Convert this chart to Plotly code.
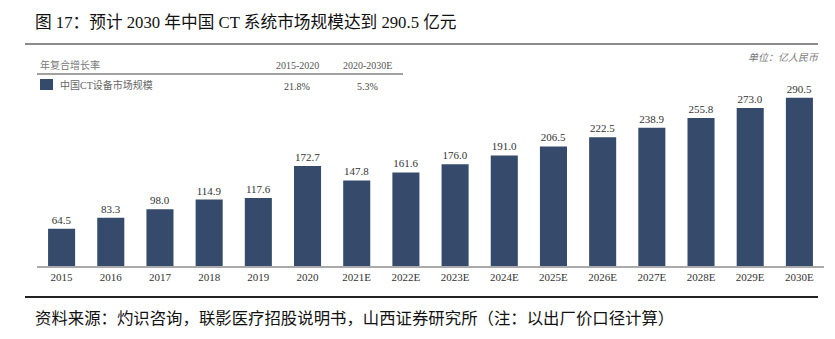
import plotly.graph_objects as go

categories = ["2015", "2016", "2017", "2018", "2019", "2020", "2021E", "2022E",
              "2023E", "2024E", "2025E", "2026E", "2027E", "2028E", "2029E", "2030E"]
values = [64.5, 83.3, 98.0, 114.9, 117.6, 172.7, 147.8, 161.6,
          176.0, 191.0, 206.5, 222.5, 238.9, 255.8, 273.0, 290.5]
value_labels = ["64.5", "83.3", "98.0", "114.9", "117.6", "172.7", "147.8", "161.6",
                "176.0", "191.0", "206.5", "222.5", "238.9", "255.8", "273.0", "290.5"]
cagr_periods = ["2015-2020", "2020-2030E"]
cagr_values = ["21.8%", "5.3%"]
series_name = "中国CT设备市场规模"

W, H = 835, 339
PL, PR, PT, PB = 37, 824, 75, 266
BAR = "#364B6B"
SERIF = "Liberation Serif, Times New Roman, Noto Sans CJK SC, serif"
CJK = "Noto Sans CJK SC, sans-serif"


def px(x):
    return (x - PL) / (PR - PL)


def py(y):
    return (PB - y) / (PB - PT)


fig = go.Figure()
fig.add_trace(go.Bar(
    x=categories, y=values, text=value_labels, textposition="outside",
    textfont=dict(family=SERIF, size=11, color="#333333"),
    marker=dict(color=BAR, line=dict(width=0)), width=0.55, cliponaxis=False,
    hoverinfo="skip", showlegend=False,
))

fig.update_layout(
    width=W, height=H, margin=dict(l=PL, r=W - PR, t=PT, b=H - PB),
    paper_bgcolor="white", plot_bgcolor="white",
    xaxis=dict(type="category", showgrid=False, zeroline=False, showline=True,
               linecolor="#AAAAAA", linewidth=1.5, ticks="",
               tickfont=dict(family=SERIF, size=11, color="#333333")),
    yaxis=dict(range=[0, 330], visible=False),
    bargap=0.45,
)

shapes = [
    dict(type="line", xref="paper", yref="paper", x0=px(25), x1=px(818), y0=py(44), y1=py(44),
         line=dict(color="#8C8C8C", width=2)),
    dict(type="line", xref="paper", yref="paper", x0=px(37), x1=px(403), y0=py(74), y1=py(74),
         line=dict(color="#444444", width=1.2)),
    dict(type="rect", xref="paper", yref="paper", x0=px(40), x1=px(53), y0=py(90), y1=py(79),
         fillcolor=BAR, line=dict(width=0)),
    dict(type="line", xref="paper", yref="paper", x0=px(25), x1=px(818), y0=py(297), y1=py(297),
         line=dict(color="#222222", width=2)),
]
fig.update_layout(shapes=shapes)

ann = []


def text(x, y, s, size, color, family, xanchor="left", italic=False):
    ann.append(dict(x=px(x), y=py(y), xref="paper", yref="paper", text=s, showarrow=False,
                    xanchor=xanchor, yanchor="middle",
                    font=dict(size=size, color=color, family=family,
                              style="italic" if italic else "normal")))


text(33, 22, "图 17：预计 2030 年中国 CT 系统市场规模达到 290.5 亿元", 16.7, "#111111", SERIF)
text(38, 65, "年复合增长率", 10, "#777777", SERIF)
text(297, 65, cagr_periods[0], 10, "#555555", SERIF, "center")
text(367, 65, cagr_periods[1], 10, "#555555", SERIF, "center")
text(58, 85, series_name, 10, "#666666", SERIF)
text(297, 86, cagr_values[0], 10, "#444444", SERIF, "center")
text(367, 86, cagr_values[1], 10, "#444444", SERIF, "center")
text(822, 58, "单位：亿人民币", 10, "#777777", SERIF, "right", italic=True)
text(33, 317, "资料来源：灼识咨询，联影医疗招股说明书，山西证券研究所（注：以出厂价口径计算）", 16.4, "#111111", CJK)
fig.update_layout(annotations=ann)

fig.write_html("out.html")
